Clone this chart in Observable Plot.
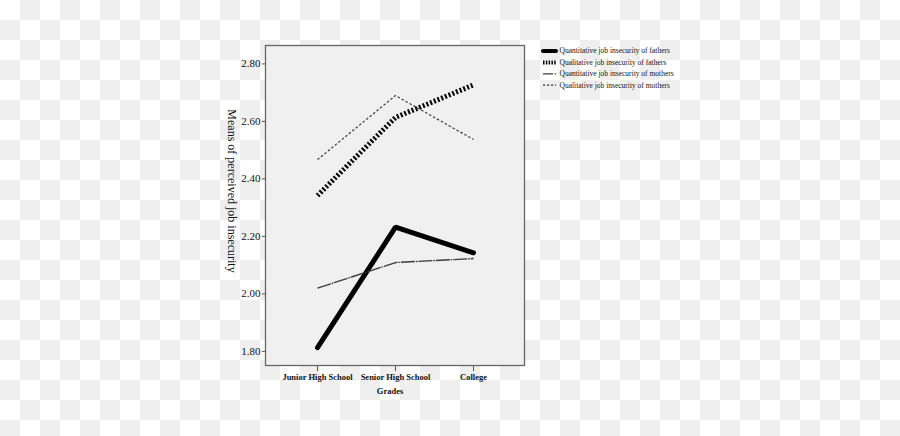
<!DOCTYPE html>
<html><head><meta charset="utf-8">
<script src="https://cdn.jsdelivr.net/npm/d3@7"></script>
<script src="https://cdn.jsdelivr.net/npm/@observablehq/plot@0.6"></script>
<style>
html,body{margin:0;padding:0;}
body{width:900px;height:436px;overflow:hidden;background:repeating-conic-gradient(#efefef 0 25%, #ffffff 0 50%) 0 0/40px 40px;}
</style></head><body><div id="chart"></div>
<script>
const grades = ["Junior High School", "Senior High School", "College"];
const seriesNames = [
  "Quantitative job insecurity of fathers",
  "Qualitative job insecurity of fathers",
  "Quantitative job insecurity of mothers",
  "Qualitative job insecurity of mothers"
];
const quantFathers = [1.813, 2.232, 2.143];
const qualFathers = [2.342, 2.614, 2.727];
const quantMothers = [2.020, 2.109, 2.123];
const qualMothers = [2.467, 2.690, 2.537];
const yTicks = [1.8, 2.0, 2.2, 2.4, 2.6, 2.8];
const seriesValues = [quantFathers, qualFathers, quantMothers, qualMothers];

const styles = [
  {stroke: "#000", strokeWidth: 5, strokeLinejoin: "miter"},
  {stroke: "#000", strokeWidth: 5, strokeDasharray: "2,2", strokeLinecap: "butt", strokeLinejoin: "miter"},
  {stroke: "#3a3a3a", strokeWidth: 1.4, strokeDasharray: "14,1,1.5,1", strokeLinecap: "butt"},
  {stroke: "#3a3a3a", strokeWidth: 1.2, strokeDasharray: "2.5,2", strokeLinecap: "butt"}
];
const rows = seriesNames.flatMap((s, i) => grades.map((g, j) => ({series: s, grade: g, value: seriesValues[i][j]})));
const serif = "'Liberation Serif','Times New Roman',serif";

const plot = Plot.plot({
  width: 900, height: 436,
  marginLeft: 265, marginRight: 376, marginTop: 45, marginBottom: 71,
  style: {background: "transparent", fontFamily: serif, color: "#111"},
  x: {type: "point", domain: grades, padding: 0.66},
  y: {domain: [1.751, 2.864]},
  marks: [
    Plot.frame({fill: "#f0f0f0", stroke: null}),
    Plot.axisY({ticks: yTicks, tickFormat: ".2f", tickSize: 3, tickPadding: 2, fontSize: 11, label: null, stroke: "#555"}),
    Plot.axisX({tickSize: 6, tickPadding: 2, fontSize: 8.5, fontWeight: "bold", label: null, stroke: "#555"}),
    ...seriesNames.map((s, i) => Plot.line(rows.filter(r => r.series === s), {x: "grade", y: "value", ...styles[i]})),
    Plot.frame({stroke: "#666", strokeWidth: 1.3}),
    Plot.text(["Grades"], {text: d => d, frameAnchor: "bottom", dy: 28, dx: -5, fontSize: 8.5, fontWeight: "bold"}),
    Plot.text(["Means of perceived job insecurity"], {text: d => d, frameAnchor: "left", textAnchor: "middle", dx: -34, dy: -14.5, rotate: 90, fontSize: 12})
  ]
});

const svg = d3.select(plot);
const lg = svg.append("g").attr("font-family", serif).attr("font-size", 7.5).attr("fill", "#111");
const legendStyles = [
  {stroke: "#000", width: 4, dash: null, cap: "round"},
  {stroke: "#000", width: 4, dash: "1.5,1.3", cap: "butt"},
  {stroke: "#3a3a3a", width: 1.3, dash: "10,1.5,1.5,1.5", cap: "butt"},
  {stroke: "#3a3a3a", width: 1.2, dash: "2.2,1.8", cap: "butt"}
];
seriesNames.forEach((s, i) => {
  const y = 51 + i * 11.4;
  const st = legendStyles[i];
  lg.append("line").attr("x1", 543).attr("x2", 556).attr("y1", y).attr("y2", y)
    .attr("stroke", st.stroke).attr("stroke-width", st.width)
    .attr("stroke-dasharray", st.dash).attr("stroke-linecap", st.cap);
  lg.append("text").attr("x", 559.5).attr("y", y).attr("dy", "0.32em").attr("text-anchor", "start").text(s);
});

document.getElementById("chart").appendChild(plot);
</script></body></html>
